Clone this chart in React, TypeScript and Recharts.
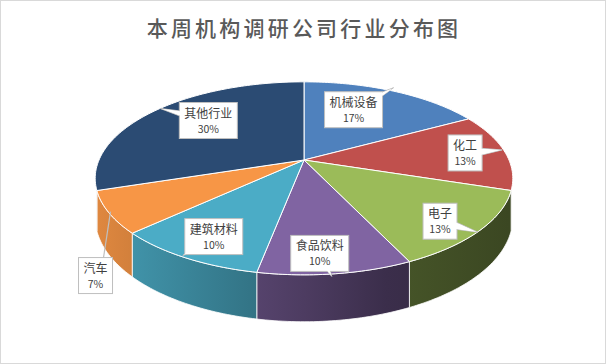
import { PieChart, Pie } from "recharts";

const INDUSTRIES = ["机械设备", "化工", "电子", "食品饮料", "建筑材料", "汽车", "其他行业"];
const SHARES = [17, 13, 13, 10, 10, 7, 30];
const COLORS = ["#4F81BD", "#C0504D", "#9BBB59", "#8064A2", "#4BACC6", "#F79646", "#2B4B73"];

// callout box offsets (from a point at 0.7 radius on the slice) and tail tip (from box centre)
const CALLOUTS = [
  { dx: -16, dy: 0, tx: 40, ty: -22, line: false },
  { dx: 20, dy: -1, tx: 37, ty: -3, line: false },
  { dx: 18, dy: 14, tx: 38, ty: 11, line: false },
  { dx: -5, dy: 19, tx: 12, ty: 23, line: false },
  { dx: -12, dy: 12, tx: -31, ty: 19, line: false },
  { dx: -76, dy: 80, tx: 15, ty: -64, line: true },
  { dx: 12, dy: -4, tx: -48, ty: -12, line: false },
];

const data = INDUSTRIES.map((name, i) => ({ name, value: SHARES[i] }));

const W = 606;
const H = 364;
const CX = 304;
const CY = 160;
const R = 205;
const TILT = 0.4537;
const PERSP = 0.19;
const DEPTH = 38;
const FONT = '"Noto Sans CJK SC", "Noto Sans", sans-serif';

function shade(hex: string, f: number) {
  const n = parseInt(hex.slice(1), 16);
  const r = Math.round(((n >> 16) & 255) * f);
  const g = Math.round(((n >> 8) & 255) * f);
  const b = Math.round((n & 255) * f);
  return `rgb(${r},${g},${b})`;
}

// perspective projection of a point on the pie disc
function pt(cx: number, cy: number, r: number, deg: number, f = 1, dz = 0) {
  const t = (deg * Math.PI) / 180;
  const u = f * Math.cos(t);
  const v = f * Math.sin(t);
  const w = 1 + PERSP * v;
  return [cx + (r * u) / w, cy - (r * TILT * v) / w + dz / w];
}

function arc(cx: number, cy: number, r: number, a: number, b: number, dz = 0) {
  const n = Math.max(2, Math.ceil(Math.abs(b - a)) + 1);
  const out: number[][] = [];
  for (let i = 0; i < n; i++) out.push(pt(cx, cy, r, a + ((b - a) * i) / (n - 1), 1, dz));
  return out;
}

const toPath = (pts: number[][]) => pts.map((p, i) => `${i ? "L" : "M"}${p[0].toFixed(2)},${p[1].toFixed(2)}`).join(" ");

// only the front part of the rim shows its side wall
const SIDE_FROM = 197.5;
const SIDE_TO = 342.5;

const renderSide = (p: any) => {
  const { cx, cy, outerRadius, startAngle, endAngle, index } = p;
  const lo = Math.min(startAngle, endAngle);
  const hi = Math.max(startAngle, endAngle);
  const color = COLORS[index];
  const id = `side-${index}`;
  const paths: string[] = [];
  for (let k = -3; k <= 2; k++) {
    const s = Math.max(lo, SIDE_FROM + 360 * k);
    const e = Math.min(hi, SIDE_TO + 360 * k);
    if (e > s) {
      const top = arc(cx, cy, outerRadius, s, e);
      const bottom = arc(cx, cy, outerRadius, e, s, DEPTH);
      paths.push(toPath([...top, ...bottom]) + " Z");
    }
  }
  return (
    <g key={id}>
      <defs>
        <linearGradient id={id} gradientUnits="userSpaceOnUse" x1={cx - outerRadius} y1={0} x2={cx + outerRadius} y2={0}>
          <stop offset="0" stopColor={shade(color, 0.9)} />
          <stop offset="0.5" stopColor={shade(color, 0.6)} />
          <stop offset="0.7" stopColor={shade(color, 0.46)} />
          <stop offset="1" stopColor={shade(color, 0.38)} />
        </linearGradient>
      </defs>
      {paths.map((d, i) => (
        <path key={i} d={d} fill={`url(#${id})`} stroke="#ffffff" strokeWidth={0.8} strokeLinejoin="round" />
      ))}
    </g>
  );
};

const renderTop = (p: any) => {
  const { cx, cy, outerRadius, startAngle, endAngle, index } = p;
  const d = `M${cx},${cy} ` + toPath(arc(cx, cy, outerRadius, startAngle, endAngle)).replace(/^M/, "L") + " Z";
  return <path key={`top-${index}`} d={d} fill={COLORS[index]} stroke="#ffffff" strokeWidth={1} strokeLinejoin="round" />;
};

const renderCallout = (p: any) => {
  const { cx, cy, outerRadius, midAngle, index } = p;
  const c = CALLOUTS[index];
  const [ax, ay] = pt(cx, cy, outerRadius, midAngle, 0.7);
  const bx = ax + c.dx;
  const by = ay + c.dy;
  const name = INDUSTRIES[index];
  const w = name.length * 12 + 10;
  const h = 36;
  const tipX = bx + c.tx;
  const tipY = by + c.ty;
  const len = Math.hypot(c.tx, c.ty);
  const nx = -c.ty / len;
  const ny = c.tx / len;
  return (
    <g key={`call-${index}`}>
      {c.line ? (
        <line x1={bx + 8} y1={by - h / 2} x2={tipX} y2={tipY} stroke="#BFBFBF" strokeWidth={1.2} />
      ) : (
        <polygon
          points={`${bx + nx * 6},${by + ny * 6} ${tipX},${tipY} ${bx - nx * 6},${by - ny * 6}`}
          fill="#ffffff"
          stroke="#BFBFBF"
          strokeWidth={1}
        />
      )}
      <rect x={bx - w / 2} y={by - h / 2} width={w} height={h} fill="#ffffff" stroke="#BFBFBF" strokeWidth={1} />
      {!c.line && (
        <polygon
          points={`${bx + nx * 5.5},${by + ny * 5.5} ${tipX - c.tx * 0.03},${tipY - c.ty * 0.03} ${bx - nx * 5.5},${by - ny * 5.5}`}
          fill="#ffffff"
        />
      )}
      <text x={bx} y={by - 3} textAnchor="middle" fontFamily={FONT} fontSize={12} fill="#404040">
        {name}
      </text>
      <text x={bx} y={by + 12} textAnchor="middle" fontFamily={FONT} fontSize={10.5} fill="#404040">
        {`${SHARES[index]}%`}
      </text>
    </g>
  );
};

export default function App() {
  const pieProps = {
    data,
    dataKey: "value",
    nameKey: "name",
    cx: CX,
    cy: CY,
    outerRadius: R,
    startAngle: 90,
    endAngle: -270,
    fill: "transparent",
    stroke: "none",
    labelLine: false,
    isAnimationActive: false,
  };
  return (
    <div
      style={{
        position: "absolute",
        left: 0,
        top: 0,
        width: W,
        height: H,
        background: "#ffffff",
        border: "1px solid #D9D9D9",
        boxSizing: "border-box",
      }}
    >
      <div
        style={{
          position: "absolute",
          left: 0,
          top: 12,
          width: W,
          textAlign: "center",
          fontFamily: FONT,
          fontSize: 21,
          fontWeight: 500,
          letterSpacing: 3.2,
          color: "#595959",
          lineHeight: "28px",
        }}
      >
        本周机构调研公司行业分布图
      </div>
      <div style={{ position: "absolute", left: -1, top: -1 }}>
        <PieChart width={W} height={H} margin={{ top: 0, right: 0, bottom: 0, left: 0 }}>
          <Pie {...pieProps} label={renderSide} />
          <Pie {...pieProps} label={renderTop} />
          <Pie {...pieProps} label={renderCallout} />
        </PieChart>
      </div>
    </div>
  );
}
